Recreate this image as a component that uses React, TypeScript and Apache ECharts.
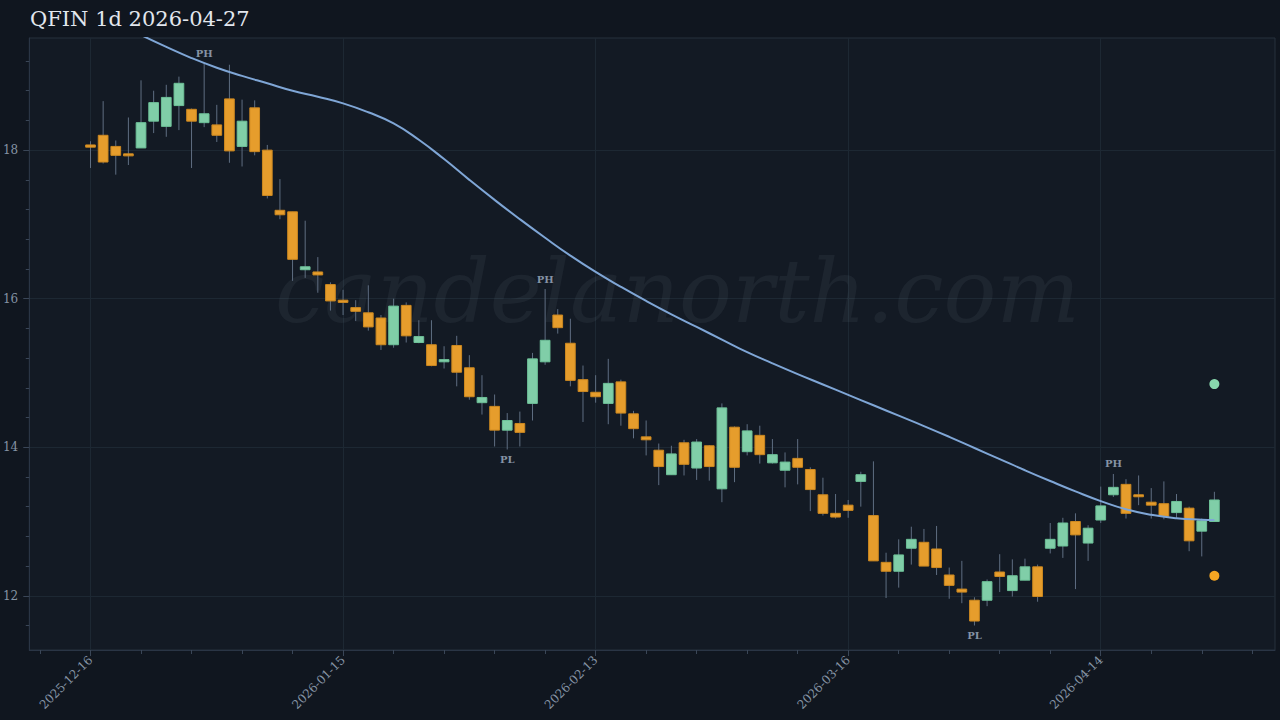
import React, { useEffect, useRef } from "react";
import * as echarts from "echarts";

const dates = [
  "2025-12-16","2025-12-17","2025-12-18","2025-12-19","2025-12-22","2025-12-23","2025-12-24","2025-12-26","2025-12-29","2025-12-30","2025-12-31",
  "2026-01-02","2026-01-05","2026-01-06","2026-01-07","2026-01-08","2026-01-09","2026-01-12","2026-01-13","2026-01-14","2026-01-15","2026-01-16","2026-01-20","2026-01-21","2026-01-22","2026-01-23","2026-01-26","2026-01-27","2026-01-28","2026-01-29","2026-01-30",
  "2026-02-02","2026-02-03","2026-02-04","2026-02-05","2026-02-06","2026-02-09","2026-02-10","2026-02-11","2026-02-12","2026-02-13","2026-02-17","2026-02-18","2026-02-19","2026-02-20","2026-02-23","2026-02-24","2026-02-25","2026-02-26","2026-02-27",
  "2026-03-02","2026-03-03","2026-03-04","2026-03-05","2026-03-06","2026-03-09","2026-03-10","2026-03-11","2026-03-12","2026-03-13","2026-03-16","2026-03-17","2026-03-18","2026-03-19","2026-03-20","2026-03-23","2026-03-24","2026-03-25","2026-03-26","2026-03-27","2026-03-30","2026-03-31",
  "2026-04-01","2026-04-02","2026-04-06","2026-04-07","2026-04-08","2026-04-09","2026-04-10","2026-04-13","2026-04-14","2026-04-15","2026-04-16","2026-04-17","2026-04-20","2026-04-21","2026-04-22","2026-04-23","2026-04-24","2026-04-27",
];

const opens = [
  18.07,18.20,18.05,17.95,18.03,18.39,18.32,18.60,18.55,18.37,
  18.34,18.69,18.05,18.57,18.00,17.19,17.17,16.39,16.36,16.19,
  15.98,15.88,15.81,15.74,15.38,15.91,15.41,15.38,15.15,15.37,
  15.07,14.60,14.55,14.23,14.32,14.59,15.15,15.78,15.40,14.91,
  14.74,14.59,14.88,14.45,14.14,13.96,13.63,14.06,13.72,14.02,
  13.44,14.27,13.94,14.16,13.79,13.69,13.85,13.70,13.36,13.11,
  13.22,13.54,13.08,12.45,12.33,12.64,12.72,12.63,12.28,12.09,
  11.94,11.94,12.32,12.07,12.21,12.39,12.64,12.67,13.00,12.71,
  13.02,13.36,13.50,13.36,13.26,13.24,13.12,13.18,12.87,13.00,
];
const closes = [
  18.04,17.84,17.93,17.94,18.37,18.64,18.71,18.90,18.39,18.49,
  18.20,17.99,18.39,17.98,17.39,17.13,16.53,16.43,16.32,15.97,
  15.95,15.83,15.62,15.38,15.90,15.50,15.49,15.10,15.18,15.01,
  14.68,14.67,14.23,14.36,14.20,15.19,15.44,15.61,14.90,14.75,
  14.68,14.86,14.46,14.25,14.10,13.74,13.91,13.77,14.07,13.74,
  14.53,13.73,14.22,13.90,13.90,13.80,13.73,13.43,13.11,13.06,
  13.15,13.63,12.47,12.33,12.55,12.76,12.40,12.38,12.14,12.05,
  11.66,12.19,12.26,12.27,12.39,11.99,12.76,12.98,12.82,12.91,
  13.21,13.46,13.11,13.34,13.22,13.07,13.27,12.74,13.01,13.29,
];
const lows = [
  17.76,17.82,17.67,17.80,18.03,18.23,18.18,18.27,17.76,18.31,
  18.11,17.83,17.78,17.93,17.35,17.07,16.24,16.28,16.08,15.84,
  15.78,15.70,15.57,15.31,15.34,15.41,15.40,15.09,15.06,14.82,
  14.64,14.44,14.01,13.97,14.01,14.36,15.11,15.53,14.82,14.34,
  14.60,14.31,14.29,14.12,13.89,13.49,13.63,13.62,13.56,13.55,
  13.26,13.53,13.89,13.78,13.78,13.46,13.50,13.14,13.08,13.04,
  13.05,13.20,12.47,11.97,12.11,12.42,12.40,12.28,11.96,11.90,
  11.60,11.86,12.05,11.99,12.21,11.92,12.57,12.51,12.09,12.47,
  12.98,13.33,13.04,13.22,13.04,13.03,13.05,12.60,12.53,13.00,
];
const highs = [
  18.12,18.66,18.13,18.44,18.94,18.80,18.88,18.99,18.56,19.17,
  18.61,19.15,18.68,18.67,18.07,17.61,17.17,17.05,16.56,16.22,
  16.12,15.98,16.18,15.78,16.00,15.95,15.71,15.71,15.36,15.50,
  15.24,14.97,14.71,14.46,14.48,15.27,16.13,15.86,15.73,15.10,
  14.97,15.19,14.91,14.49,14.36,14.05,14.02,14.10,14.11,14.03,
  14.59,14.28,14.31,14.29,14.11,13.93,14.11,13.73,13.59,13.37,
  13.29,13.67,13.81,12.58,12.76,12.93,12.90,12.94,12.38,12.47,
  11.98,12.22,12.56,12.49,12.50,12.42,12.98,13.05,13.11,12.95,
  13.47,13.64,13.57,13.62,13.45,13.54,13.37,13.20,13.04,13.40,
];

// smooth moving-average overlay, read at every 2nd bar
const maIndex = [0, 2, 4, 6, 8, 10, 12, 14, 16, 18, 20, 22, 24, 26, 28, 30, 32, 34, 36, 38, 40, 42, 44, 46, 48, 50, 52, 54, 56, 58, 60, 62, 64, 66, 68, 70, 72, 74, 76, 78, 80, 82, 84, 86, 88, 89];
const maValues = [
  19.90, 19.72, 19.55, 19.39, 19.24, 19.11, 19.00, 18.90, 18.80, 18.72,
  18.63, 18.51, 18.36, 18.14, 17.88, 17.60, 17.33, 17.07, 16.82, 16.58,
  16.36, 16.16, 15.97, 15.79, 15.62, 15.45, 15.28, 15.13, 14.985, 14.845,
  14.705, 14.565, 14.425, 14.285, 14.14, 13.99, 13.84, 13.69, 13.545, 13.405,
  13.275, 13.165, 13.09, 13.045, 13.025, 13.02,
];

// pivot markers: index and direction (1 = PH at the high, -1 = PL at the low)
const pivotIndex = [9, 36, 81, 33, 70];
const pivotDir = [1, 1, 1, -1, -1];

const targetUp = 14.85;
const targetDown = 12.27;

const yTicks = [12, 14, 16, 18];
const xLabelIdx = [0, 20, 40, 60, 80];

const FONT = "'DejaVu Serif', serif";
const UP = "#80cea8";
const UP_BORDER = "#6dc198";
const DOWN = "#e69d2c";
const DOWN_BORDER = "#cc8820";
const WICK = "#5f6e82";
const TXT = "#8593a4";

export default function App() {
  const ref = useRef<HTMLDivElement>(null);
  useEffect(() => {
    document.body.style.margin = "0";
    const chart = echarts.init(ref.current!, null, { renderer: "svg" });
    const candleData = dates.map((_, i) => [i, opens[i], closes[i], lows[i], highs[i]]);
    const pivotData = pivotIndex.map((idx, k) => [idx, pivotDir[k] > 0 ? highs[idx] : lows[idx], pivotDir[k]]);
    const option: any = {
      animation: false,
      backgroundColor: "#10161f",
      title: {
        text: "QFIN 1d 2026-04-27",
        left: 30,
        top: 8,
        padding: 0,
        textStyle: { color: "#e2e7ee", fontSize: 21, fontWeight: "normal", fontFamily: FONT },
      },
      graphic: [
        {
          type: "text",
          left: 275,
          top: 247,
          z: 1,
          silent: true,
          style: {
            text: "candelanorth.com",
            font: "italic 88px 'DejaVu Serif', serif",
            fill: "rgba(170,185,205,0.07)",
          },
        },
      ],
      grid: {
        left: 29,
        right: 5,
        top: 38,
        bottom: 70,
        show: true,
        backgroundColor: "#131a24",
        borderColor: "#26303d",
        borderWidth: 1,
      },
      xAxis: {
        type: "value",
        min: -4.85,
        max: 93.8,
        axisLine: { show: true, onZero: false, lineStyle: { color: "#2a3545" } },
        axisTick: { show: true, length: 6, customValues: xLabelIdx, lineStyle: { color: "#3a4657" } },
        minorTick: { show: true, splitNumber: 5, length: 4, lineStyle: { color: "#3a4657" } },
        splitLine: { show: true, lineStyle: { color: "#1d2833", width: 1 } },
        axisLabel: {
          customValues: xLabelIdx,
          rotate: 45,
          margin: 8,
          color: TXT,
          fontSize: 12,
          fontFamily: FONT,
          formatter: (v: number) => dates[Math.round(v)] ?? "",
        },
      },
      yAxis: {
        type: "value",
        min: 11.27,
        max: 19.51,
        axisLine: { show: true, onZero: false, lineStyle: { color: "#2a3545" } },
        axisTick: { show: true, length: 6, customValues: yTicks, lineStyle: { color: "#3a4657" } },
        minorTick: { show: true, splitNumber: 5, length: 3.5, lineStyle: { color: "#3a4657" } },
        splitLine: { show: true, lineStyle: { color: "#1d2833", width: 1 } },
        axisLabel: { customValues: yTicks, margin: 11, color: TXT, fontSize: 12, fontFamily: FONT },
      },
      series: [
        {
          type: "custom",
          name: "candles",
          z: 3,
          encode: { x: 0, y: [1, 2, 3, 4] },
          data: candleData,
          renderItem: (_params: any, api: any) => {
            const x = api.value(0);
            const o = api.value(1);
            const c = api.value(2);
            const l = api.value(3);
            const h = api.value(4);
            const pO = api.coord([x, o]);
            const pC = api.coord([x, c]);
            const pL = api.coord([x, l]);
            const pH = api.coord([x, h]);
            const w = api.size([1, 0])[0] * 0.77;
            const up = c >= o;
            const top = Math.min(pO[1], pC[1]);
            const hgt = Math.max(Math.abs(pO[1] - pC[1]), 2);
            return {
              type: "group",
              children: [
                {
                  type: "line",
                  shape: { x1: pH[0], y1: pH[1], x2: pL[0], y2: pL[1] },
                  style: { stroke: WICK, lineWidth: 1 },
                },
                {
                  type: "rect",
                  shape: { x: pO[0] - w / 2, y: top, width: w, height: hgt },
                  style: {
                    fill: up ? UP : DOWN,
                    stroke: up ? UP_BORDER : DOWN_BORDER,
                    lineWidth: 1,
                  },
                },
              ],
            };
          },
        },
        {
          type: "line",
          name: "ma",
          z: 4,
          data: maIndex.map((idx, k) => [idx, maValues[k]]),
          smooth: 0.5,
          showSymbol: false,
          clip: true,
          lineStyle: { color: "#7fa6d6", width: 2 },
          silent: true,
        },
        {
          type: "custom",
          name: "pivots",
          z: 5,
          encode: { x: 0, y: 1 },
          data: pivotData,
          renderItem: (_params: any, api: any) => {
            const p = api.coord([api.value(0), api.value(1)]);
            const dir = api.value(2);
            return {
              type: "text",
              x: p[0],
              y: p[1] - dir * 10,
              style: {
                text: dir > 0 ? "PH" : "PL",
                fill: TXT,
                font: "bold 10px 'DejaVu Serif', serif",
                textAlign: "center",
                textVerticalAlign: "middle",
              },
            };
          },
        },
        {
          type: "scatter",
          name: "targets",
          z: 6,
          symbolSize: 10,
          data: [
            { value: [89, targetUp], itemStyle: { color: "#88d8ad", opacity: 1 } },
            { value: [89, targetDown], itemStyle: { color: "#f5a623", opacity: 1 } },
          ],
        },
      ],
    };
    chart.setOption(option);
    return () => chart.dispose();
  }, []);
  return <div ref={ref} style={{ position: "fixed", left: 0, top: 0, width: 1280, height: 720 }} />;
}
